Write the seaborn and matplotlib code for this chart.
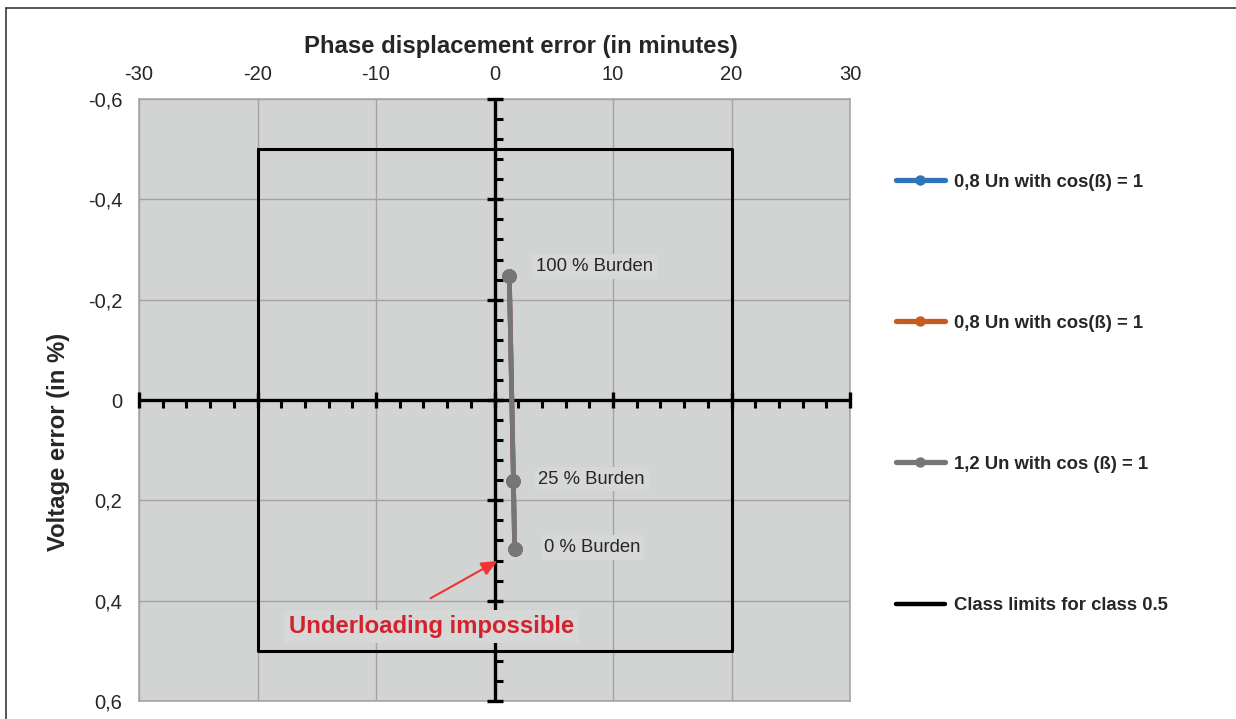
import numpy as np
import pandas as pd
import matplotlib
matplotlib.use("Agg")
import matplotlib.pyplot as plt
import seaborn as sns
from matplotlib.lines import Line2D

# ---- data ----
burden_labels = ["0 % Burden", "25 % Burden", "100 % Burden"]
phase_err_12 = [1.7, 1.6, 1.25]          # minutes
volt_err_12 = [0.298, 0.162, -0.248]     # %
phase_err_08a = [1.7, 1.6, 1.25]
volt_err_08a = [0.298, 0.162, -0.248]
phase_err_08b = [1.7, 1.6, 1.25]
volt_err_08b = [0.298, 0.162, -0.248]
class_x = [-20, 20, 20, -20, -20]
class_y = [-0.5, -0.5, 0.5, 0.5, -0.5]
x_ticks = [-30, -20, -10, 0, 10, 20, 30]
y_ticks = [-0.6, -0.4, -0.2, 0.0, 0.2, 0.4, 0.6]
y_tick_labels = ["-0,6", "-0,4", "-0,2", "0", "0,2", "0,4", "0,6"]
series_names = ["0,8 Un with cos(ß) = 1", "0,8 Un with cos(ß) = 1",
                "1,2 Un with cos (ß) = 1", "Class limits for class 0.5"]

sns.set_theme(style="white")
plt.rcParams["font.family"] = ["Liberation Sans", "DejaVu Sans"]
plt.rcParams["axes.unicode_minus"] = False

fig = plt.figure(figsize=(12.36, 7.19), dpi=100)
ax = fig.add_axes([139 / 1236, 1 - 701 / 719, (850 - 139) / 1236, (701 - 99) / 719])
ax.set_facecolor("#d2d3d3")

blue, orange, grey = "#2e75b6", "#c55a23", "#747679"

df_a = pd.DataFrame({"x": phase_err_08a, "y": volt_err_08a})
df_b = pd.DataFrame({"x": phase_err_08b, "y": volt_err_08b})
df_c = pd.DataFrame({"x": phase_err_12, "y": volt_err_12})

# grid
ax.set_xlim(-30, 30)
ax.set_ylim(0.6, -0.6)
ax.set_xticks(x_ticks)
ax.set_yticks(y_ticks)
ax.set_yticklabels(y_tick_labels)
ax.grid(True, color="#a3a3a3", linewidth=1)
ax.set_axisbelow(True)

# class limits
ax.plot(class_x, class_y, color="black", lw=2.2, zorder=3)

# zero cross axes
ax.axhline(0, color="black", lw=2.4, zorder=4)
ax.axvline(0, color="black", lw=2.4, zorder=4)
xm = np.arange(-30, 31, 2)
xm_minor = xm[xm % 10 != 0]
xm_major = xm[xm % 10 == 0]
ax.plot(xm_minor, np.zeros_like(xm_minor), ls="none", marker=3, ms=6, mew=2.2, color="black", zorder=4, clip_on=False)
ax.plot(xm_major, np.zeros_like(xm_major), ls="none", marker="|", ms=12, mew=2.4, color="black", zorder=4, clip_on=False)
ym = np.round(np.arange(-0.6, 0.601, 0.04), 2)
ym_major = ym[np.isclose(np.round(ym / 0.2), ym / 0.2)]
ym_minor = ym[~np.isclose(np.round(ym / 0.2), ym / 0.2)]
ax.plot(np.zeros_like(ym_minor), ym_minor, ls="none", marker=1, ms=6, mew=2.2, color="black", zorder=4, clip_on=False)
ax.plot(np.zeros_like(ym_major), ym_major, ls="none", marker="_", ms=12, mew=2.4, color="black", zorder=4, clip_on=False)

# series
for d, c in [(df_a, blue), (df_b, orange), (df_c, grey)]:
    sns.lineplot(data=d, x="x", y="y", ax=ax, sort=False, color=c, lw=3.4,
                 marker="o", markersize=10.5, markeredgewidth=0, zorder=5, legend=False)

# point labels
label_offsets = {"0 % Burden": (4.2, 0.294), "25 % Burden": (3.7, 0.158), "100 % Burden": (3.5, -0.266)}
for lab in burden_labels:
    tx, ty = label_offsets[lab]
    ax.text(tx, ty, lab, fontsize=13.3, color="#262626", va="center", ha="left", zorder=6,
            bbox=dict(boxstyle="square,pad=0.2", fc="#d6d7d7", ec="none"))

# annotation
ax.annotate("", xy=(0.45, 0.318), xytext=(-5.6, 0.398),
            arrowprops=dict(arrowstyle="-|>,head_length=0.8,head_width=0.35", color="#f03434", lw=1.5),
            zorder=6)
ax.text(-5.3, 0.452, "Underloading impossible", fontsize=17.2, fontweight="bold", color="#d3222d",
        ha="center", va="center", zorder=6,
        bbox=dict(boxstyle="square,pad=0.2", fc="#d6d7d7", ec="none"))

# axes style
ax.xaxis.tick_top()
ax.tick_params(axis="both", length=0, labelsize=14.5, labelcolor="#262626")
ax.tick_params(axis="x", pad=10.5)
ax.tick_params(axis="y", pad=12)
for s in ax.spines.values():
    s.set_color("#a6a6a6")
    s.set_linewidth(1.2)
ax.set_xlabel("")
ax.set_ylabel("")
fig.text(521 / 1236, 1 - 47 / 719, "Phase displacement error (in minutes)", fontsize=17.2,
         fontweight="bold", color="#262626", ha="center", va="center")
fig.text(58 / 1236, 1 - 442 / 719, "Voltage error (in %)", fontsize=17.2, fontweight="bold",
         color="#262626", ha="center", va="center", rotation=90)

# legend
handles = [Line2D([], [], color=blue, lw=3.8, marker="o", ms=6.5),
           Line2D([], [], color=orange, lw=3.8, marker="o", ms=6.5),
           Line2D([], [], color=grey, lw=3.8, marker="o", ms=6.5),
           Line2D([], [], color="black", lw=3.2)]
leg = fig.legend(handles, series_names, loc="upper left", bbox_to_anchor=(879 / 1236, 1 - 157 / 719),
                 frameon=False, labelspacing=6.72, handlelength=2.65, handletextpad=0.5,
                 prop=dict(size=13.3, weight="bold"))
for t in leg.get_texts():
    t.set_color("#262626")

# outer border (top and left only)
fig.add_artist(Line2D([6 / 1236, 6 / 1236], [0, 1 - 8 / 719], transform=fig.transFigure,
                      color="#3a3a3a", lw=1.2))
fig.add_artist(Line2D([6 / 1236, 1], [1 - 8 / 719, 1 - 8 / 719], transform=fig.transFigure,
                      color="#3a3a3a", lw=1.2))

fig.savefig("out.png", dpi=100)
